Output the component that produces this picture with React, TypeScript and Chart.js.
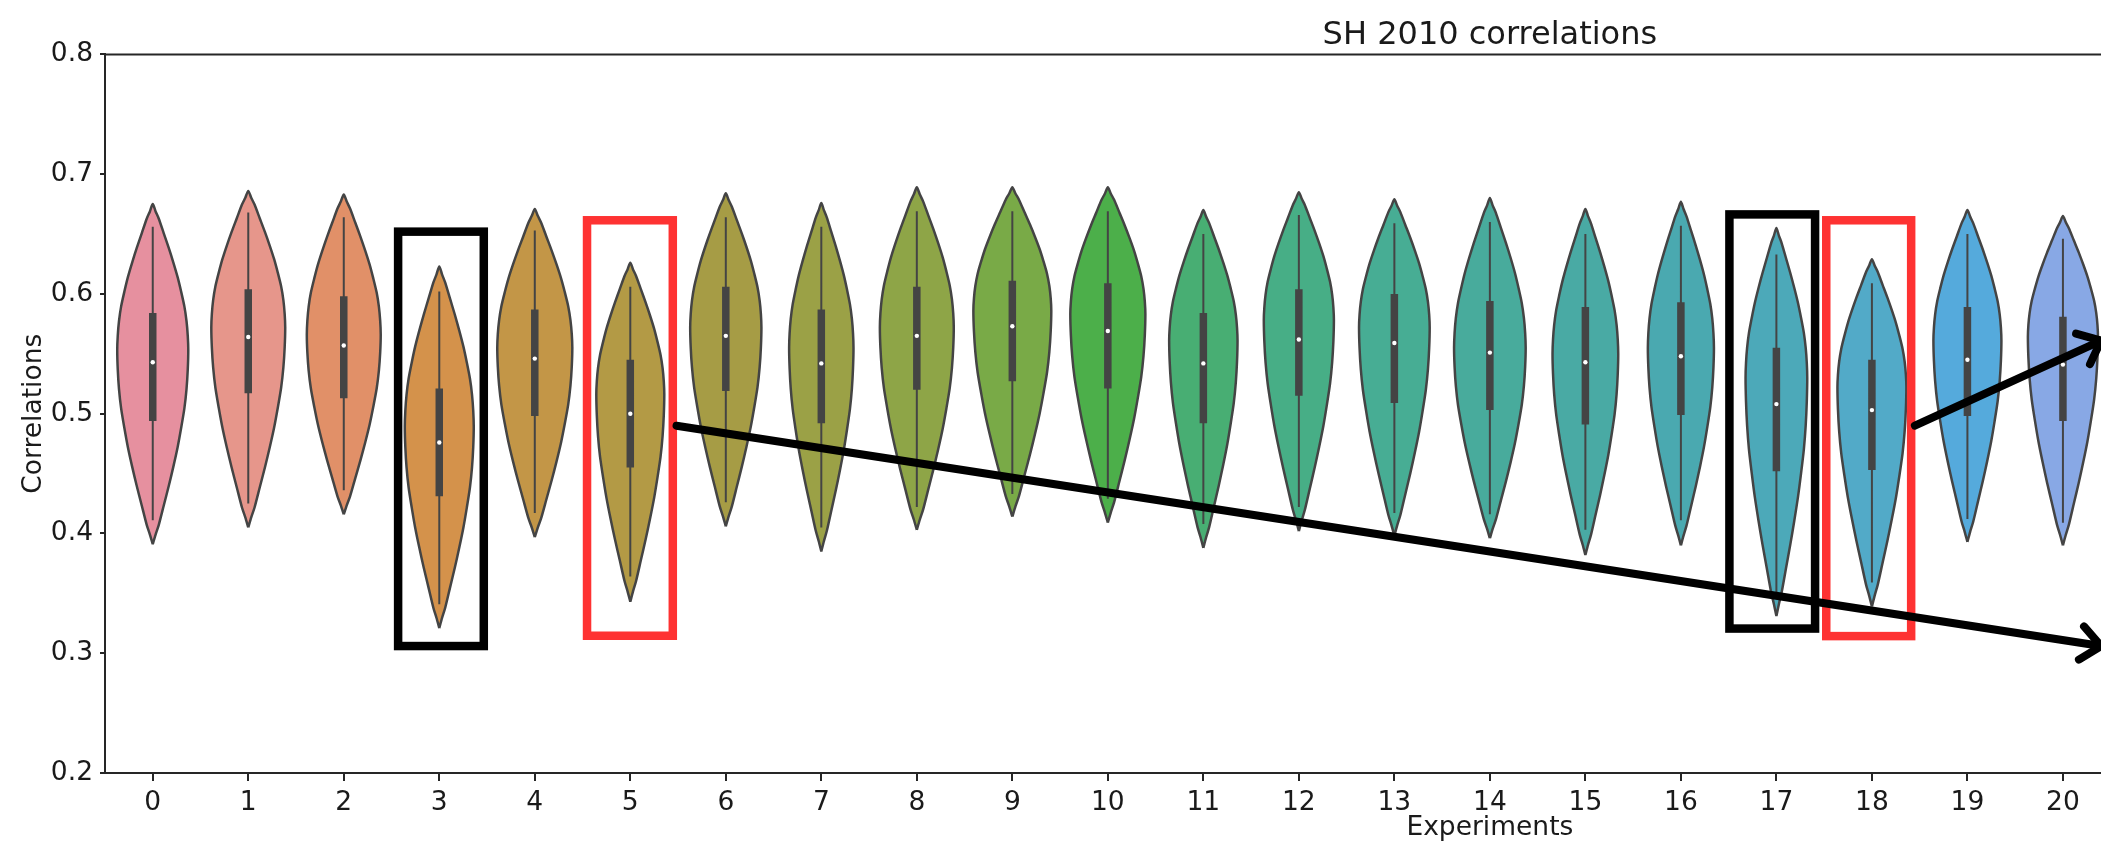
import React, { useEffect, useRef } from "react";
import { Chart, registerables } from "chart.js";

Chart.register(...registerables);

// ---------------- data ----------------
const CATEGORIES = [0, 1, 2, 3, 4, 5, 6, 7, 8, 9, 10, 11, 12, 13, 14, 15, 16, 17, 18, 19, 20];
const X_TICK_LABELS = CATEGORIES.map((c) => String(c));
const Y_TICKS = [0.2, 0.3, 0.4, 0.5, 0.6, 0.7, 0.8];

// violin extent (kde tips) and widest point
const TIP_TOP = [0.675, 0.686, 0.683, 0.623, 0.671, 0.626, 0.684, 0.676, 0.689, 0.689, 0.689, 0.670, 0.685, 0.679, 0.680, 0.671, 0.677, 0.655, 0.629, 0.670, 0.665];
const TIP_BOT = [0.391, 0.405, 0.416, 0.321, 0.397, 0.343, 0.406, 0.385, 0.403, 0.414, 0.409, 0.388, 0.402, 0.398, 0.396, 0.382, 0.390, 0.331, 0.339, 0.393, 0.390];
const PEAK = [0.553, 0.572, 0.566, 0.489, 0.555, 0.516, 0.572, 0.555, 0.572, 0.586, 0.583, 0.561, 0.578, 0.572, 0.555, 0.550, 0.555, 0.530, 0.522, 0.561, 0.564];
const HALF_WIDTH = [0.372, 0.387, 0.387, 0.361, 0.393, 0.356, 0.373, 0.337, 0.387, 0.408, 0.393, 0.358, 0.367, 0.370, 0.375, 0.344, 0.346, 0.323, 0.361, 0.356, 0.367];

// inner box plot
const WHISKER_HI = [0.656, 0.668, 0.664, 0.602, 0.653, 0.606, 0.664, 0.656, 0.669, 0.669, 0.669, 0.650, 0.666, 0.659, 0.660, 0.650, 0.657, 0.633, 0.609, 0.650, 0.646];
const Q3 = [0.584, 0.604, 0.598, 0.521, 0.587, 0.545, 0.606, 0.587, 0.606, 0.611, 0.609, 0.584, 0.604, 0.600, 0.594, 0.589, 0.593, 0.555, 0.545, 0.589, 0.581];
const MEDIAN = [0.543, 0.564, 0.557, 0.476, 0.546, 0.500, 0.565, 0.542, 0.565, 0.573, 0.569, 0.542, 0.562, 0.559, 0.551, 0.543, 0.548, 0.508, 0.503, 0.545, 0.541];
const Q1 = [0.494, 0.517, 0.513, 0.431, 0.498, 0.455, 0.519, 0.492, 0.520, 0.527, 0.521, 0.492, 0.515, 0.509, 0.503, 0.491, 0.499, 0.452, 0.453, 0.498, 0.494];
const WHISKER_LO = [0.411, 0.425, 0.436, 0.341, 0.417, 0.364, 0.426, 0.405, 0.422, 0.433, 0.429, 0.408, 0.422, 0.417, 0.416, 0.403, 0.411, 0.350, 0.359, 0.412, 0.409];

const COLORS = [
  "#e6909f", "#e6968b", "#e19068", "#d4924b", "#c39647", "#b39a45", "#a69c45",
  "#9ba146", "#8ea547", "#79aa47", "#4caf4a", "#48ae73", "#47ae86", "#47ad94",
  "#48ab9c", "#49aaa4", "#4aa9b0", "#4ca9b9", "#52aac8", "#55aadc", "#88a8e5",
];

// annotations drawn over the chart (data units)
const ANNOT_BOXES = [
  { x0: 2.569, x1: 3.466, y0: 0.306, y1: 0.652, color: "#000000" },
  { x0: 4.547, x1: 5.445, y0: 0.3146, y1: 0.6615, color: "#fe3232" },
  { x0: 16.508, x1: 17.405, y0: 0.3206, y1: 0.6664, color: "#000000" },
  { x0: 17.522, x1: 18.411, y0: 0.3143, y1: 0.6615, color: "#fe3232" },
];
const ANNOT_ARROWS = [
  { x0: 5.484, y0: 0.49, x1: 20.4, y1: 0.306 },
  { x0: 18.45, y0: 0.49, x1: 20.4, y1: 0.561 },
];

// ---------------- styles ----------------
const FONT = "DejaVu Sans";
const TEXT = "#1a1a1a";
const AXIS = "#262626";
const OUTLINE = "#444444";
// violin outline template: width ratio vs fraction of distance from the widest point to a tip
const PROFILE_T = [0, 0.1, 0.2, 0.3, 0.4, 0.5, 0.6, 0.7, 0.8, 0.9, 0.95, 1];
const PROFILE_R = [1, 0.985, 0.95, 0.89, 0.8, 0.7, 0.58, 0.45, 0.31, 0.17, 0.08, 0];

const X_MIN = -0.5;
const X_MAX = 28.5;
const CANVAS_W = 2900;
const CANVAS_H = 843;

function violinOutline(i: number) {
  const c = CATEGORIES[i];
  const w = HALF_WIDTH[i];
  const pk = PEAK[i];
  const right: { x: number; y: number }[] = [];
  for (let k = PROFILE_T.length - 1; k >= 0; k--) {
    right.push({ x: c + PROFILE_R[k] * w, y: pk - PROFILE_T[k] * (pk - TIP_BOT[i]) });
  }
  for (let k = 1; k < PROFILE_T.length; k++) {
    right.push({ x: c + PROFILE_R[k] * w, y: pk + PROFILE_T[k] * (TIP_TOP[i] - pk) });
  }
  const left = right
    .slice(0, -1)
    .reverse()
    .map((p) => ({ x: 2 * c - p.x, y: p.y }));
  return [...right, ...left];
}

function segments(lo: number[], hi: number[]) {
  const pts: { x: number; y: number | null }[] = [];
  CATEGORIES.forEach((c, i) => {
    pts.push({ x: c, y: lo[i] });
    pts.push({ x: c, y: hi[i] });
    pts.push({ x: c, y: null });
  });
  return pts;
}

const overlayPlugin = {
  id: "overlay",
  afterDraw(chart: any) {
    const { ctx, chartArea, scales } = chart;
    const xs = scales.x;
    const ys = scales.y;
    ctx.save();
    // top spine
    ctx.strokeStyle = AXIS;
    ctx.lineWidth = 2;
    ctx.beginPath();
    ctx.moveTo(chartArea.left - 1, chartArea.top);
    ctx.lineTo(chartArea.right, chartArea.top);
    ctx.stroke();

    // boxes
    ctx.lineJoin = "miter";
    ANNOT_BOXES.forEach((b) => {
      const x0 = xs.getPixelForValue(b.x0);
      const x1 = xs.getPixelForValue(b.x1);
      const y0 = ys.getPixelForValue(b.y1);
      const y1 = ys.getPixelForValue(b.y0);
      ctx.strokeStyle = b.color;
      ctx.lineWidth = 8.5;
      ctx.strokeRect(x0, y0, x1 - x0, y1 - y0);
    });

    // arrows
    ctx.strokeStyle = "#000000";
    ctx.lineWidth = 8;
    ctx.lineCap = "round";
    ctx.lineJoin = "round";
    ANNOT_ARROWS.forEach((a) => {
      const px0 = xs.getPixelForValue(a.x0);
      const py0 = ys.getPixelForValue(a.y0);
      const px1 = xs.getPixelForValue(a.x1);
      const py1 = ys.getPixelForValue(a.y1);
      ctx.beginPath();
      ctx.moveTo(px0, py0);
      ctx.lineTo(px1, py1);
      ctx.stroke();
      const ang = Math.atan2(py1 - py0, px1 - px0);
      const len = 26;
      const spread = 0.7;
      ctx.beginPath();
      ctx.moveTo(px1 - len * Math.cos(ang - spread), py1 - len * Math.sin(ang - spread));
      ctx.lineTo(px1, py1);
      ctx.lineTo(px1 - len * Math.cos(ang + spread), py1 - len * Math.sin(ang + spread));
      ctx.stroke();
    });
    ctx.restore();
  },
};

export default function App() {
  const canvasRef = useRef<HTMLCanvasElement | null>(null);

  useEffect(() => {
    document.body.style.margin = "0";
    document.documentElement.style.overflow = "hidden";
    const canvas = canvasRef.current;
    if (!canvas) return;

    const datasets: any[] = [];
    CATEGORIES.forEach((_, i) => {
      datasets.push({
        data: violinOutline(i),
        showLine: true,
        fill: "shape",
        backgroundColor: COLORS[i],
        borderColor: OUTLINE,
        borderWidth: 2.5,
        pointRadius: 0,
        tension: 0.25,
        order: 4,
      });
    });
    datasets.push({
      data: segments(WHISKER_LO, WHISKER_HI),
      showLine: true,
      fill: false,
      borderColor: OUTLINE,
      borderWidth: 2,
      pointRadius: 0,
      spanGaps: false,
      order: 3,
    });
    datasets.push({
      data: segments(Q1, Q3),
      showLine: true,
      fill: false,
      borderColor: OUTLINE,
      borderWidth: 7.5,
      borderCapStyle: "butt",
      pointRadius: 0,
      spanGaps: false,
      order: 2,
    });
    datasets.push({
      data: CATEGORIES.map((c, i) => ({ x: c, y: MEDIAN[i] })),
      showLine: false,
      fill: false,
      pointRadius: 2.2,
      pointBackgroundColor: "#ffffff",
      pointBorderWidth: 0,
      order: 1,
    });

    const chart = new Chart(canvas, {
      type: "line",
      data: { datasets },
      options: {
        animation: false,
        responsive: false,
        events: [],
        layout: { padding: { top: 0, left: 0, bottom: 0, right: CANVAS_W - 2874.75 } },
        plugins: {
          legend: { display: false },
          tooltip: { enabled: false },
          title: {
            display: true,
            text: "SH 2010 correlations",
            color: TEXT,
            fullSize: false,
            font: { family: FONT, size: 32, weight: "normal", lineHeight: 1.2 },
            padding: { top: 16, bottom: 0 },
          },
        },
        scales: {
          x: {
            type: "linear",
            min: X_MIN,
            max: X_MAX,
            bounds: "data",
            afterBuildTicks: (s: any) => {
              s.ticks = CATEGORIES.map((v) => ({ value: v }));
            },
            afterFit: (s: any) => {
              s.height = 70;
            },
            ticks: {
              autoSkip: false,
              maxRotation: 0,
              padding: 6,
              color: TEXT,
              font: { family: FONT, size: 26.5 },
              callback: (v: any) => X_TICK_LABELS[CATEGORIES.indexOf(Number(v))] ?? "",
            },
            grid: { drawOnChartArea: false, drawTicks: true, tickLength: 8, color: AXIS, lineWidth: 2 },
            border: { display: true, color: AXIS, width: 2 },
            title: {
              display: true,
              text: "Experiments",
              color: TEXT,
              font: { family: FONT, size: 26.5, lineHeight: 1.13 },
              padding: { top: 0, bottom: 0 },
            },
          },
          y: {
            type: "linear",
            min: 0.2,
            max: 0.8,
            afterBuildTicks: (s: any) => {
              s.ticks = Y_TICKS.map((v) => ({ value: v }));
            },
            afterFit: (s: any) => {
              s.width = 105;
            },
            ticks: {
              padding: 7,
              color: TEXT,
              font: { family: FONT, size: 26.5 },
              callback: (v: any) => Number(v).toFixed(1),
            },
            grid: { drawOnChartArea: false, drawTicks: true, tickLength: 5, color: AXIS, lineWidth: 2 },
            border: { display: true, color: AXIS, width: 2 },
            title: {
              display: true,
              text: "Correlations",
              color: TEXT,
              font: { family: FONT, size: 26.5, lineHeight: 1.13 },
              padding: { top: 19, bottom: 0 },
            },
          },
        },
      },
      plugins: [overlayPlugin],
    } as any);

    return () => chart.destroy();
  }, []);

  return (
    <div style={{ width: 2101, height: CANVAS_H, overflow: "hidden", position: "relative", background: "#ffffff" }}>
      <canvas
        ref={canvasRef}
        width={CANVAS_W}
        height={CANVAS_H}
        style={{ width: CANVAS_W, height: CANVAS_H, display: "block" }}
      />
    </div>
  );
}
